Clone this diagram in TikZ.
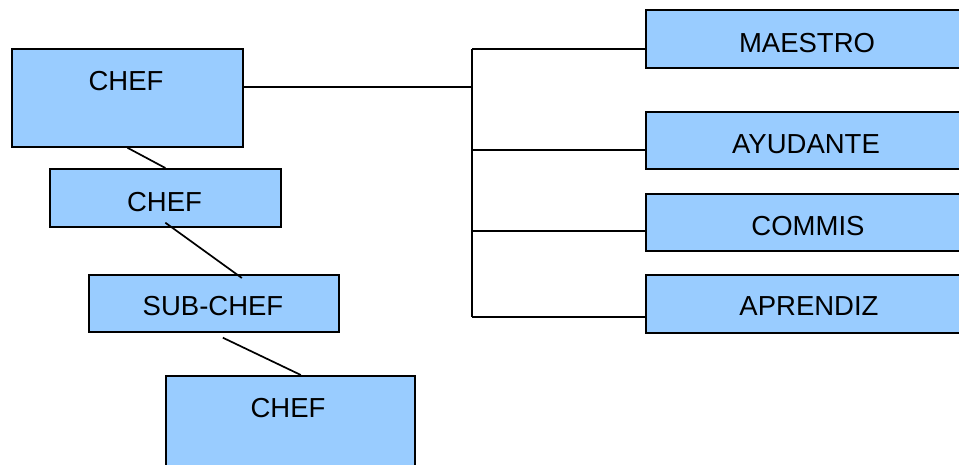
\documentclass[tikz,border=0pt]{standalone}
\usepackage{fontspec}
\setmainfont{Liberation Sans}
\definecolor{boxblue}{HTML}{99CCFF}
\begin{document}
\begin{tikzpicture}[x=1pt,y=-1pt,
  box/.style={draw=black, fill=boxblue, line width=1.7pt, rectangle, inner sep=0pt, anchor=north west},
  lbl/.style={inner sep=0pt, font=\fontsize{27.5pt}{30pt}\selectfont, anchor=center},
  conn/.style={draw=black, line width=1.7pt}]
\useasboundingbox (0,0) rectangle (959,465);
\clip (0,0) rectangle (959,465);
\fill[white] (0,0) rectangle (959,465);
% left column
\node[box, minimum width=231pt, minimum height=98pt] (chefA) at (11,48) {};
\node[box, minimum width=231pt, minimum height=58pt] (chefB) at (49,168) {};
\node[box, minimum width=250pt, minimum height=57pt] (sub) at (88,274) {};
\node[box, minimum width=249pt, minimum height=110pt] (chefC) at (165,375) {};
\node[lbl] (chefAt) at (126,81) {CHEF};
\node[lbl] (chefBt) at (164.5,202) {CHEF};
\node[lbl] (subt) at (213,306) {SUB-CHEF};
\node[lbl] (chefCt) at (288,408) {CHEF};
% right column
\node[box, minimum width=330pt, minimum height=58pt] (maestro) at (645,9) {};
\node[box, minimum width=330pt, minimum height=57pt] (ayud) at (645,111) {};
\node[box, minimum width=330pt, minimum height=57pt] (commis) at (645,193) {};
\node[box, minimum width=330pt, minimum height=58pt] (apren) at (645,274) {};
\node[lbl] (maestrot) at (807,43) {MAESTRO};
\node[lbl] (ayudt) at (806,144) {AYUDANTE};
\node[lbl] (commist) at (808,226) {COMMIS};
\node[lbl] (aprent) at (809,306) {APRENDIZ};
% bracket
\coordinate (jTop) at (472,49);
\coordinate (jMain) at (472,87);
\coordinate (jAy) at (472,150);
\coordinate (jCo) at (472,231);
\coordinate (jAp) at (472,317);
\draw[conn] (chefA.east |- jMain) -- (jMain);
\draw[conn] (jTop) -- (jAp);
\draw[conn] (jTop) -- (jTop -| maestro.west);
\draw[conn] (jAy) -- (jAy -| ayud.west);
\draw[conn] (jCo) -- (jCo -| commis.west);
\draw[conn] (jAp) -- (jAp -| apren.west);
% left connectors
\draw[conn] (chefA.south) -- (chefB.north);
\draw[conn] ([yshift=5pt]chefB.south) -- ([xshift=28pt,yshift=-4pt]sub.north);
\draw[conn] ([xshift=9pt,yshift=-5pt]sub.south) -- ([xshift=10.5pt]chefC.north);
\end{tikzpicture}
\end{document}
